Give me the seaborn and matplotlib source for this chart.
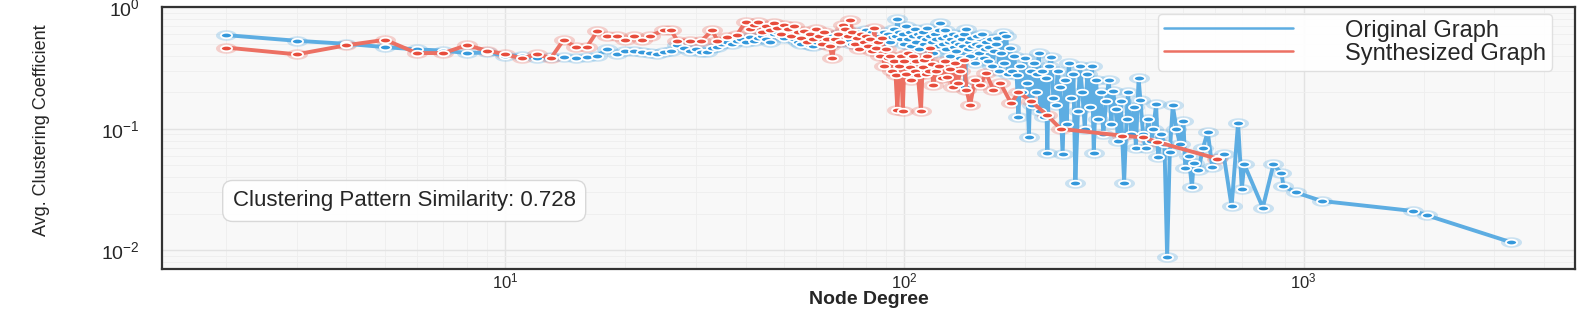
import numpy as np
import matplotlib
matplotlib.use("Agg")
import matplotlib.pyplot as plt
from matplotlib.path import Path
from matplotlib.lines import Line2D
import seaborn as sns

# node degree vs avg clustering coefficient
orig_degree = [
    2, 3, 4, 5, 6, 7, 8, 9, 10, 11,
    12, 13, 14, 15, 16, 17, 18, 19, 20, 21,
    22, 23, 24, 25, 26, 27, 28, 29, 30, 31,
    32, 33, 34, 35, 36, 37, 38, 39, 40, 41,
    42, 43, 44, 45, 46, 47, 48, 49, 50, 51,
    52, 53, 54, 55, 56, 57, 58, 59, 60, 61,
    62, 63, 64, 65, 66, 67, 68, 69, 70, 71,
    72, 73, 74, 75, 76, 77, 78, 79, 80, 81,
    82, 83, 84, 85, 86, 87, 88, 89, 90, 91,
    92, 93, 94, 95, 96, 97, 98, 99, 100, 101,
    102, 103, 104, 105, 106, 107, 108, 109, 110, 111,
    112, 113, 114, 115, 116, 117, 118, 119, 120, 121,
    122, 123, 124, 125, 126, 127, 128, 129, 130, 131,
    132, 133, 134, 135, 136, 137, 138, 139, 140, 141,
    142, 143, 144, 145, 146, 147, 148, 150, 151, 152,
    154, 155, 156, 158, 159, 160, 162, 163, 165, 166,
    168, 170, 171, 173, 175, 177, 178, 180, 182, 184,
    186, 188, 191, 193, 195, 197, 200, 203, 205, 207,
    209, 211, 213, 215, 217, 219, 221, 223, 226, 228,
    230, 233, 236, 239, 242, 245, 249, 252, 255, 258,
    262, 265, 268, 272, 275, 279, 283, 287, 291, 295,
    298, 302, 306, 310, 315, 320, 325, 330, 333, 338,
    343, 348, 355, 360, 363, 370, 376, 380, 386, 390,
    396, 402, 408, 415, 420, 427, 432, 440, 448, 455,
    462, 470, 480, 490, 500, 505, 515, 525, 530, 545,
    560, 575, 590, 610, 630, 660, 685, 700, 710, 790,
    840, 880, 890, 955, 1110, 1880, 2040, 3300,
]
orig_cc = [
    0.59, 0.53, 0.50, 0.47, 0.45, 0.44, 0.42, 0.425, 0.40, 0.40,
    0.38, 0.39, 0.39, 0.38, 0.39, 0.40, 0.45, 0.41, 0.44, 0.44,
    0.43, 0.42, 0.41, 0.43, 0.44, 0.49, 0.46, 0.44, 0.45, 0.43,
    0.43, 0.46, 0.47, 0.50, 0.52, 0.50, 0.53, 0.55, 0.52, 0.57,
    0.53, 0.56, 0.58, 0.55, 0.52, 0.60, 0.63, 0.58, 0.56, 0.60,
    0.59, 0.55, 0.52, 0.50, 0.55, 0.53, 0.49, 0.48, 0.52, 0.55,
    0.50, 0.57, 0.54, 0.50, 0.58, 0.56, 0.60, 0.52, 0.55, 0.58,
    0.60, 0.54, 0.50, 0.57, 0.62, 0.59, 0.55, 0.52, 0.65, 0.58,
    0.54, 0.62, 0.57, 0.60, 0.53, 0.58, 0.50, 0.63, 0.55, 0.60,
    0.52, 0.57, 0.66, 0.58, 0.80, 0.62, 0.55, 0.60, 0.50, 0.70,
    0.55, 0.62, 0.48, 0.58, 0.66, 0.52, 0.60, 0.45, 0.57, 0.63,
    0.50, 0.55, 0.68, 0.47, 0.58, 0.52, 0.42, 0.60, 0.55, 0.48,
    0.65, 0.74, 0.56, 0.50, 0.65, 0.45, 0.58, 0.52, 0.40, 0.55,
    0.60, 0.47, 0.52, 0.44, 0.58, 0.50, 0.38, 0.55, 0.48, 0.60,
    0.22, 0.66, 0.45, 0.52, 0.40, 0.56, 0.48, 0.35, 0.50, 0.58,
    0.42, 0.48, 0.60, 0.38, 0.45, 0.52, 0.36, 0.47, 0.55, 0.33,
    0.44, 0.50, 0.56, 0.30, 0.42, 0.61, 0.35, 0.58, 0.28, 0.46,
    0.30, 0.40, 0.275, 0.124, 0.33, 0.20, 0.38, 0.24, 0.085, 0.30,
    0.156, 0.35, 0.20, 0.28, 0.42, 0.14, 0.30, 0.124, 0.26, 0.063,
    0.33, 0.39, 0.18, 0.156, 0.30, 0.22, 0.062, 0.25, 0.11, 0.35,
    0.18, 0.28, 0.036, 0.14, 0.33, 0.20, 0.10, 0.28, 0.15, 0.33,
    0.063, 0.25, 0.12, 0.20, 0.09, 0.17, 0.25, 0.11, 0.205, 0.145,
    0.08, 0.17, 0.036, 0.12, 0.20, 0.09, 0.15, 0.07, 0.26, 0.172,
    0.09, 0.069, 0.12, 0.08, 0.10, 0.16, 0.059, 0.09, 0.075, 0.0088,
    0.064, 0.156, 0.10, 0.075, 0.115, 0.048, 0.06, 0.033, 0.052, 0.046,
    0.07, 0.095, 0.049, 0.058, 0.062, 0.023, 0.112, 0.032, 0.051, 0.0225,
    0.051, 0.043, 0.034, 0.030, 0.0255, 0.0211, 0.0194, 0.0117,
]

synth_degree = [
    2, 3, 4, 5, 6, 7, 8, 9, 10, 11,
    12, 13, 14, 15, 16, 17, 18, 19, 20, 21,
    22, 23, 25, 26, 27, 29, 31, 33, 34, 36,
    38, 40, 41, 42, 43, 44, 45, 46, 47, 48,
    49, 50, 51, 52, 53, 54, 55, 56, 57, 58,
    59, 60, 61, 62, 63, 64, 65, 66, 67, 68,
    69, 70, 71, 72, 73, 74, 75, 76, 77, 78,
    79, 80, 81, 82, 83, 84, 85, 86, 87, 88,
    89, 90, 91, 92, 93, 94, 95, 96, 97, 98,
    99, 100, 101, 102, 103, 104, 105, 106, 107, 108,
    110, 111, 112, 113, 114, 115, 116, 117, 118, 120,
    122, 124, 126, 128, 130, 132, 134, 136, 138, 141,
    143, 146, 150, 155, 160, 167, 174, 185, 193, 207,
    228, 246, 350, 397, 430, 605,
]
synth_cc = [
    0.466, 0.41, 0.487, 0.54, 0.42, 0.42, 0.487, 0.44, 0.41, 0.38,
    0.41, 0.38, 0.54, 0.47, 0.47, 0.635, 0.58, 0.58, 0.54, 0.58,
    0.54, 0.58, 0.647, 0.647, 0.53, 0.53, 0.53, 0.647, 0.53, 0.57,
    0.59, 0.76, 0.66, 0.72, 0.76, 0.62, 0.70, 0.65, 0.74, 0.68,
    0.60, 0.72, 0.66, 0.58, 0.70, 0.62, 0.56, 0.64, 0.52, 0.60,
    0.55, 0.66, 0.58, 0.50, 0.62, 0.55, 0.48, 0.38, 0.55, 0.60,
    0.52, 0.72, 0.66, 0.58, 0.78, 0.62, 0.50, 0.56, 0.45, 0.60,
    0.52, 0.58, 0.48, 0.55, 0.44, 0.67, 0.46, 0.52, 0.40, 0.56,
    0.33, 0.45, 0.38, 0.40, 0.30, 0.36, 0.275, 0.142, 0.33, 0.40,
    0.14, 0.36, 0.28, 0.42, 0.32, 0.25, 0.40, 0.30, 0.36, 0.275,
    0.14, 0.32, 0.366, 0.28, 0.40, 0.30, 0.46, 0.34, 0.23, 0.30,
    0.33, 0.26, 0.36, 0.265, 0.31, 0.22, 0.345, 0.24, 0.30, 0.366,
    0.21, 0.156, 0.25, 0.23, 0.287, 0.21, 0.237, 0.162, 0.20, 0.17,
    0.129, 0.10, 0.088, 0.085, 0.078, 0.057,
]
similarity = 0.728

blue_line, blue_dot = "#5DADE2", "#3498DB"
red_line, red_dot = "#EC7063", "#E74C3C"

sns.set_style("whitegrid")
plt.rcParams["font.family"] = ["Liberation Sans", "DejaVu Sans"]
plt.rcParams["mathtext.fontset"] = "custom"
plt.rcParams["mathtext.rm"] = "Liberation Sans"
plt.rcParams["mathtext.it"] = "Liberation Sans"

fig = plt.figure(figsize=(15.78, 3.10), dpi=100)
ax = fig.add_axes([0.1027, 0.132, 0.8953, 0.845])
ax.set_facecolor("#f8f8f8")

# flattened circle marker
t = np.linspace(0, 2 * np.pi, 41)
oval = Path(np.column_stack([np.cos(t), 0.5 * np.sin(t)]), closed=True)

for deg, cc, lc, dc in [(orig_degree, orig_cc, blue_line, blue_dot),
                        (synth_degree, synth_cc, red_line, red_dot)]:
    sns.scatterplot(x=deg, y=cc, marker=oval, s=230, color=lc, alpha=0.3,
                    linewidth=0, ax=ax, zorder=2)
    sns.lineplot(x=deg, y=cc, color=lc, lw=2.8, marker=oval, markersize=8,
                 markerfacecolor=dc, markeredgecolor="white",
                 markeredgewidth=1.3, ax=ax, zorder=3)

ax.set_xscale("log")
ax.set_yscale("log")

ax.grid(True, which="major", color="#e3e3e3", lw=1.0)
ax.grid(True, which="minor", color="#eeeeee", lw=0.6)
ax.set_axisbelow(True)
for s in ax.spines.values():
    s.set_visible(True)
    s.set_color("#333333")
    s.set_linewidth(1.6)

ax.tick_params(axis="both", which="both", length=0)
ax.tick_params(axis="x", labelsize=12, pad=2)
ax.tick_params(axis="y", labelsize=14, pad=16)

ax.set_xlabel("Node Degree", fontsize=14, fontweight="bold")
ax.xaxis.set_label_coords(0.5, -0.082)
ax.set_ylabel("Avg. Clustering Coefficient", fontsize=13)
ax.yaxis.set_label_coords(-0.079, 0.53)

handles = [Line2D([], [], color=blue_line, lw=1.8),
           Line2D([], [], color=red_line, lw=1.8)]
leg = ax.legend(handles, ["Original Graph", "Synthesized Graph"],
                loc="upper right", bbox_to_anchor=(0.984, 0.975),
                borderaxespad=0, fontsize=17, frameon=True, fancybox=True,
                handlelength=5.5, handletextpad=2.2, borderpad=0.25,
                labelspacing=0.05)
leg.get_frame().set_facecolor("white")
leg.get_frame().set_edgecolor("#dddddd")
leg.get_frame().set_alpha(0.9)

ax.text(0.05, 0.26, f"Clustering Pattern Similarity: {similarity:.3f}",
        transform=ax.transAxes, fontsize=16, va="center", ha="left",
        bbox=dict(boxstyle="round,pad=0.45", facecolor="white",
                  edgecolor="#d5d5d5", alpha=0.9))

fig.savefig("out.png", dpi=100)
